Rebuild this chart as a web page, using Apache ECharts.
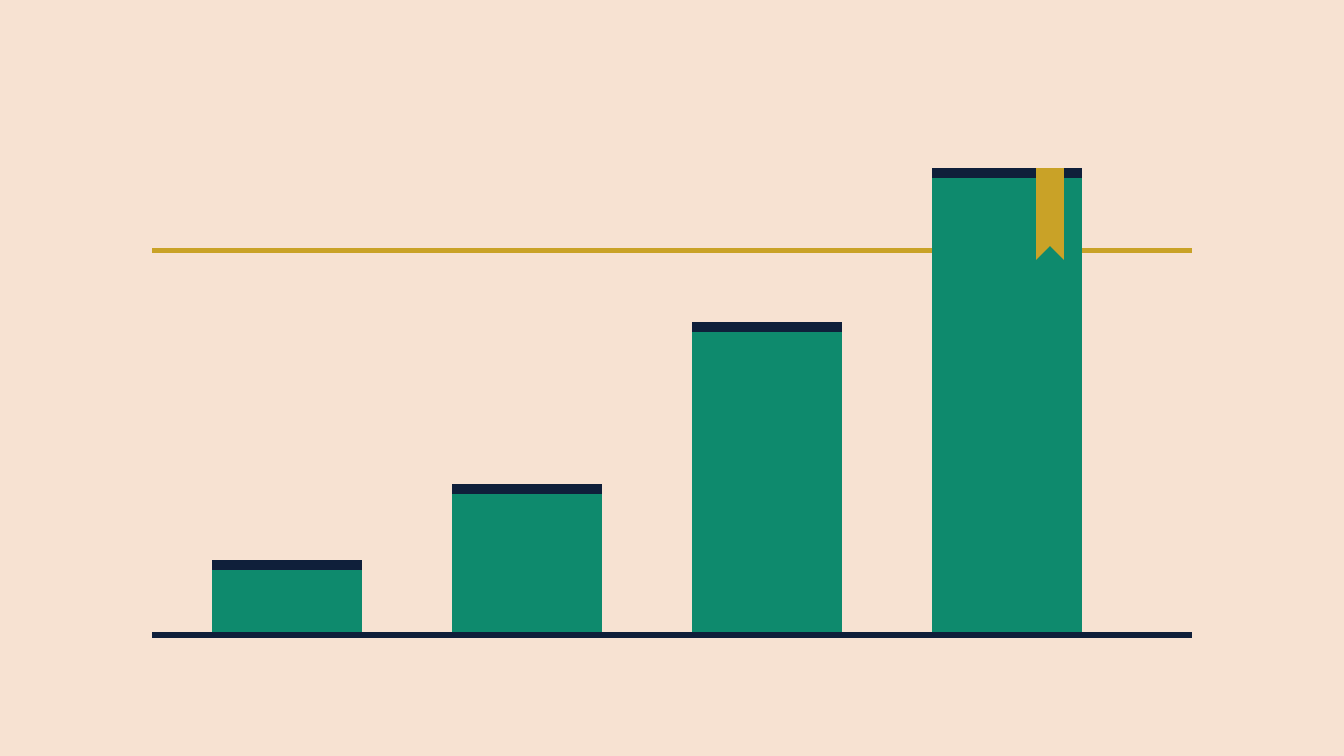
<!DOCTYPE html>
<html>
<head>
<meta charset="utf-8">
<style>html,body{margin:0;padding:0;background:#F7E2D2}#c{width:1344px;height:756px}</style>
<script src="https://cdn.jsdelivr.net/npm/echarts@6/dist/echarts.min.js"></script>
</head>
<body>
<div id="c"></div>
<script>
const positions = [0, 1, 2, 3];
const totalValues = [72, 148, 310, 464];
const bodyValues = [62, 138, 300, 454];
const targetValue = 381.5;
const xRange = [-0.5625, 3.77083];
const yRange = [0, 632];
const ribbon = { x: 3.17917, y: 418 };

const BG = '#F7E2D2', TEAL = '#0E8A6D', NAVY = '#0F1F3A', GOLD = '#C9A227';

const chart = echarts.init(document.getElementById('c'), null, { renderer: 'canvas' });
chart.setOption({
  animation: false,
  backgroundColor: BG,
  grid: { left: 152, width: 1040, top: 0, height: 632, containLabel: false },
  xAxis: {
    type: 'value', min: xRange[0], max: xRange[1], offset: 3,
    axisLine: { show: true, onZero: false, lineStyle: { color: NAVY, width: 6, cap: 'butt' } },
    axisTick: { show: false }, axisLabel: { show: false }, splitLine: { show: false }
  },
  yAxis: { type: 'value', min: yRange[0], max: yRange[1], show: false, splitLine: { show: false } },
  series: [
    {
      type: 'line', z: 1, silent: true, symbol: 'none',
      lineStyle: { color: GOLD, width: 5, cap: 'butt' },
      data: [[xRange[0], targetValue], [xRange[1], targetValue]]
    },
    {
      type: 'bar', z: 2, barWidth: 150, barGap: '-100%', silent: true,
      itemStyle: { color: NAVY },
      data: positions.map((p, i) => [p, totalValues[i]])
    },
    {
      type: 'bar', z: 3, barWidth: 150, barGap: '-100%', silent: true,
      itemStyle: { color: TEAL },
      data: positions.map((p, i) => [p, bodyValues[i]]),
      markPoint: {
        silent: true,
        z: 5,
        symbol: 'path://M0 0H28V92L14 78L0 92Z',
        symbolSize: [28, 92],
        symbolKeepAspect: false,
        itemStyle: { color: GOLD },
        label: { show: false },
        data: [{ coord: [ribbon.x, ribbon.y] }]
      }
    }
  ]
});
</script>
</body>
</html>
